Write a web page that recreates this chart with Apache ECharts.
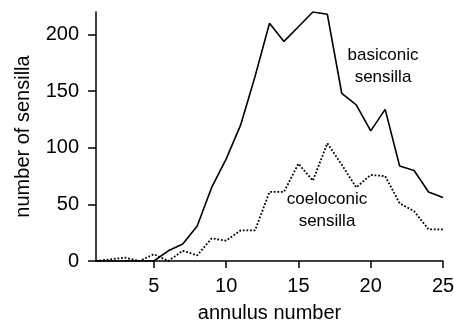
<!DOCTYPE html>
<html>
<head>
<meta charset="utf-8">
<script src="https://cdn.jsdelivr.net/npm/echarts@6/dist/echarts.min.js"></script>
<style>
  html, body { margin: 0; padding: 0; background: #fff; }
  #chart { width: 454px; height: 323px; }
</style>
</head>
<body>
<div id="chart"></div>
<script>
const annulus = [1, 2, 3, 4, 5, 6, 7, 8, 9, 10, 11, 12, 13, 14, 15, 16, 17, 18, 19, 20, 21, 22, 23, 24, 25];
const basiconic = [0, 0, 0, 0, 0, 9, 15, 31, 65, 90, 120, 163, 210, 194, 207, 220, 218, 148, 138, 115, 134, 84, 80, 61, 56];
const coeloconic = [0, 1.5, 3, 0, 6, 0, 9, 5, 20, 18, 27, 27, 61, 61, 86, 71, 104, 85, 65, 76, 75, 51, 44, 28, 28];
const xTicks = [5, 10, 15, 20, 25];
const yTicks = [0, 50, 100, 150, 200];

const font = 'Liberation Sans, Arial, sans-serif';
const chart = echarts.init(document.getElementById('chart'));

chart.setOption({
  animation: false,
  backgroundColor: '#fff',
  grid: { left: 96, right: 11, top: 12, bottom: 62, outerBoundsMode: 'none', containLabel: false },
  xAxis: {
    type: 'value',
    min: 1,
    max: 25,
    name: 'annulus number',
    nameLocation: 'middle',
    nameGap: 42,
    nameTextStyle: { color: '#000', fontSize: 20, fontFamily: font },
    axisLine: { lineStyle: { color: '#000', width: 1.5 } },
    axisTick: { show: true, length: 7, customValues: xTicks, lineStyle: { color: '#000', width: 1.5 } },
    axisLabel: { customValues: xTicks, color: '#000', fontSize: 20, fontFamily: font, margin: 15 },
    splitLine: { show: false }
  },
  yAxis: {
    type: 'value',
    min: 0,
    max: 220,
    name: 'number of sensilla',
    nameLocation: 'middle',
    nameGap: 63,
    nameTextStyle: { color: '#000', fontSize: 20, fontFamily: font },
    axisLine: { show: true, lineStyle: { color: '#000', width: 1.5 } },
    axisTick: { show: true, length: 8, customValues: yTicks, lineStyle: { color: '#000', width: 1.5 } },
    axisLabel: { customValues: yTicks, color: '#000', fontSize: 20, fontFamily: font, margin: 17 },
    splitLine: { show: false }
  },
  series: [
    {
      name: 'basiconic sensilla',
      type: 'line',
      data: annulus.map((a, i) => [a, basiconic[i]]),
      showSymbol: false,
      lineStyle: { color: '#000', width: 1.6 },
      z: 3
    },
    {
      name: 'coeloconic sensilla',
      type: 'line',
      data: annulus.map((a, i) => [a, coeloconic[i]]),
      showSymbol: false,
      lineStyle: { color: '#000', width: 1.8, type: [1.8, 1.8] },
      z: 2
    }
  ],
  graphic: [
    {
      type: 'text', x: 383, y: 44,
      style: { text: 'basiconic\nsensilla', textAlign: 'center', fill: '#000', fontSize: 17, fontFamily: font, lineHeight: 22 }
    },
    {
      type: 'text', x: 327, y: 188,
      style: { text: 'coeloconic\nsensilla', textAlign: 'center', fill: '#000', fontSize: 17, fontFamily: font, lineHeight: 22 }
    }
  ]
});
</script>
</body>
</html>
